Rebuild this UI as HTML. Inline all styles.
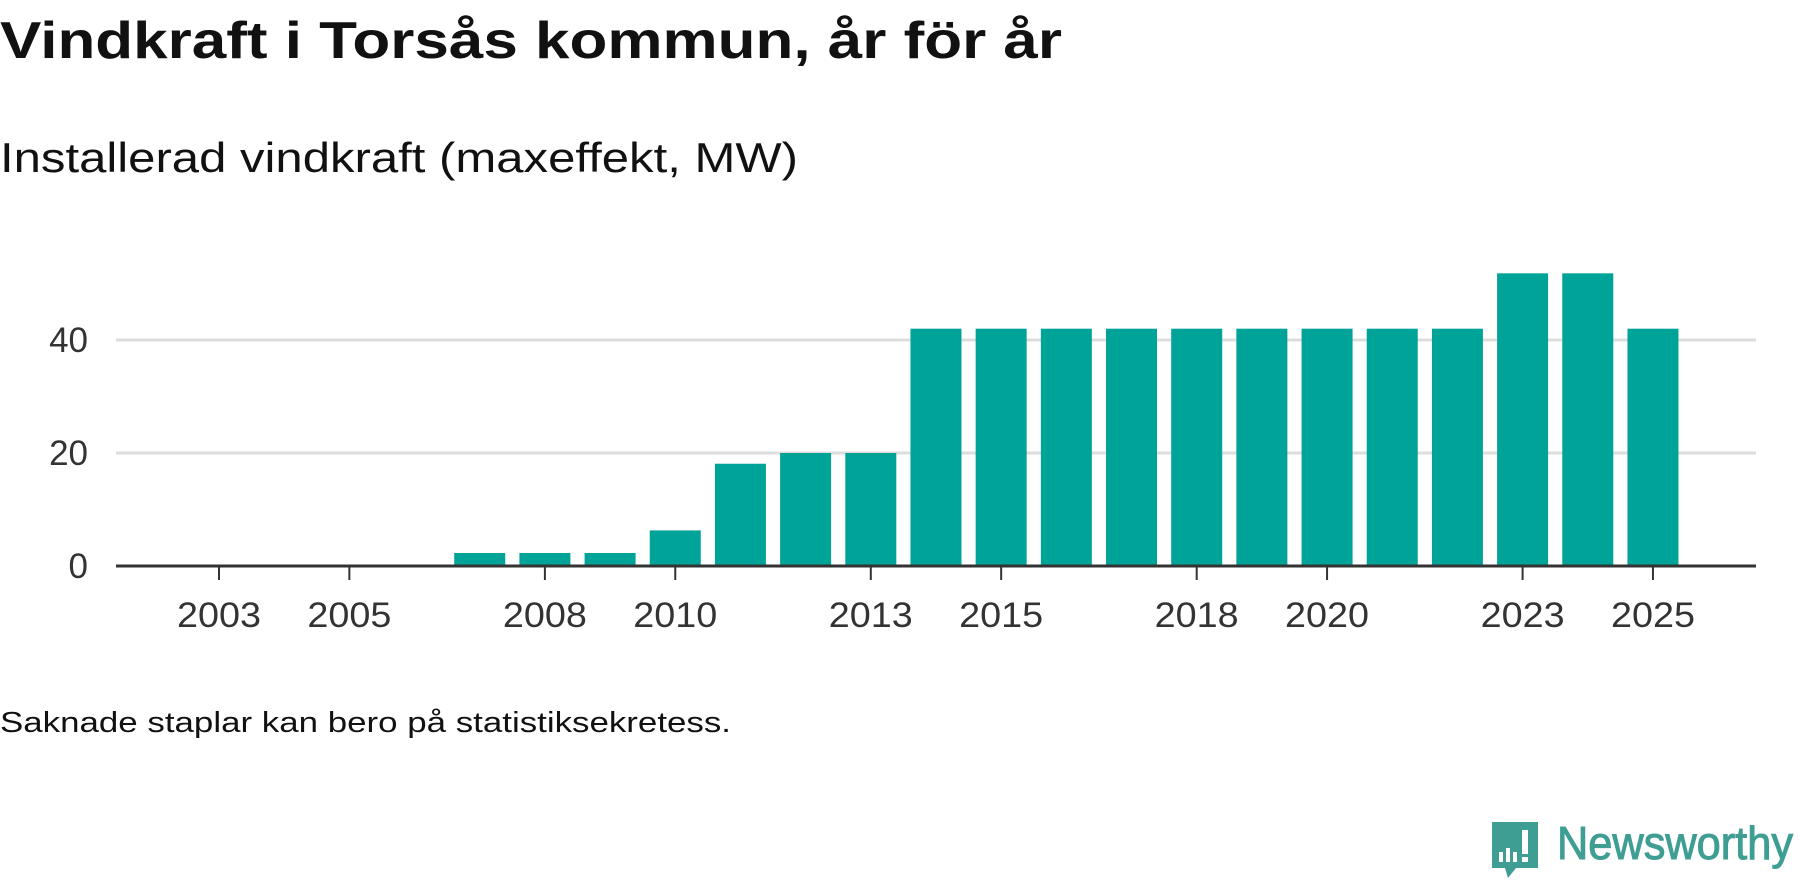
<!DOCTYPE html>
<html><head><meta charset="utf-8"><style>
body{margin:0;background:#fff;width:1800px;height:879px;overflow:hidden;font-family:"Liberation Sans","DejaVu Sans",sans-serif}
</style></head><body>
<svg width="1800" height="879" viewBox="0 0 1800 879">
<text x="0" y="58" font-size="52" font-weight="bold" fill="#111" textLength="1062" lengthAdjust="spacingAndGlyphs">Vindkraft i Torsås kommun, år för år</text>
<text x="0" y="172" font-size="42" fill="#111" textLength="798" lengthAdjust="spacingAndGlyphs">Installerad vindkraft (maxeffekt, MW)</text>
<g id="grid"></g><g id="bars"></g><g id="axis"></g>
<text x="0" y="732" font-size="29" fill="#111" textLength="731" lengthAdjust="spacingAndGlyphs">Saknade staplar kan bero på statistiksekretess.</text>
<g>
<path d="M1492 822 h46 v46 h-22 l-8 10 l-3 -10 h-13 z" fill="#3f9e94"/>
<rect x="1499" y="852" width="4" height="10" fill="#fff"/><rect x="1506" y="848" width="4" height="14" fill="#fff"/><rect x="1513" y="852" width="4" height="10" fill="#fff"/><rect x="1522" y="830" width="6" height="24" fill="#fff"/><rect x="1522" y="857" width="6" height="5" fill="#fff"/>
<text x="1557" y="859" font-size="46" fill="#3f9e94" stroke="#3f9e94" stroke-width="1" textLength="236" lengthAdjust="spacingAndGlyphs">Newsworthy</text>
</g>
</svg>
<script>
const years=[2002,2003,2004,2005,2006,2007,2008,2009,2010,2011,2012,2013,2014,2015,2016,2017,2018,2019,2020,2021,2022,2023,2024,2025];
const values=[0,0,0,0,0,2.3,2.3,2.3,6.3,18.1,20,20,42,42,42,42,42,42,42,42,42,51.8,51.8,42];
const yTicks=[0,20,40];
const xTickLabels=[2003,2005,2008,2010,2013,2015,2018,2020,2023,2025];
const NS="http://www.w3.org/2000/svg";
const x0=219,step=65.18,bw=51,y0=566,pxPer=5.65;
const xs=y=>x0+(y-2003)*step;
const ys=v=>y0-v*pxPer;
function mk(t,a,p){const e=document.createElementNS(NS,t);for(const k in a)e.setAttribute(k,a[k]);p.appendChild(e);return e;}
const grid=document.getElementById('grid'),bars=document.getElementById('bars'),axis=document.getElementById('axis');
yTicks.forEach(v=>{
 if(v>0){const l=mk('line',{x1:116,x2:1756,y1:ys(v),y2:ys(v),stroke:'#ddd','stroke-width':3},grid);
 
 }
 const t=mk('text',{x:88,y:ys(v)+12,'text-anchor':'end','font-size':35,fill:'#333'},grid);t.textContent=v;
 
 
});
years.forEach((y,i)=>{if(values[i]<=0)return;
 const r=mk('rect',{x:xs(y)-bw/2,y:ys(values[i]),width:bw,height:values[i]*pxPer,fill:'#00a398'},bars);
 
 
});
const al=mk('line',{x1:116,x2:1756,y1:y0,y2:y0,stroke:'#333','stroke-width':3},axis);


xTickLabels.forEach(y=>{
 const tk=mk('line',{x1:xs(y),x2:xs(y),y1:y0,y2:y0+14,stroke:'#333','stroke-width':2},axis);
 
 
 const t=mk('text',{x:xs(y),y:627,'text-anchor':'middle','font-size':35,fill:'#333',textLength:84,lengthAdjust:'spacingAndGlyphs'},axis);t.textContent=y;
 
 
});
</script>
</body></html>
